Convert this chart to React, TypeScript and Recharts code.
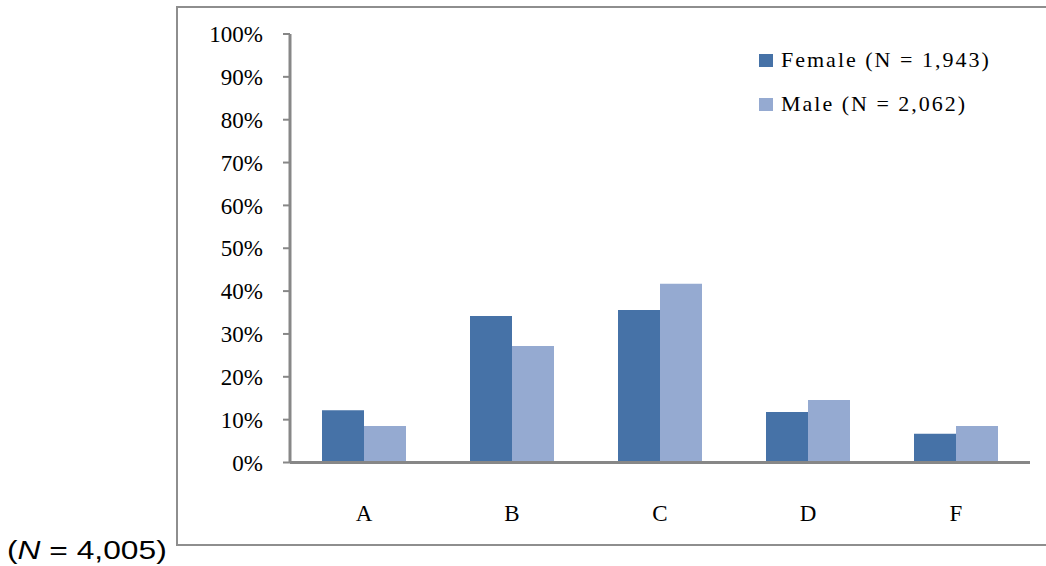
import { BarChart, Bar, XAxis, YAxis, Legend } from "recharts";

const grades = ["A", "B", "C", "D", "F"];
const femalePct = [12.2, 34.2, 35.6, 11.8, 6.7];
const malePct = [8.5, 27.2, 41.7, 14.6, 8.5];
const yTicks = [0, 10, 20, 30, 40, 50, 60, 70, 80, 90, 100];

const FEMALE_LABEL = "Female (N = 1,943)";
const MALE_LABEL = "Male (N = 2,062)";

const data = grades.map((g, i) => ({
  grade: g,
  female: femalePct[i],
  male: malePct[i],
}));

const AXIS_GREY = "#878787";
const SERIF = "'Liberation Serif', 'Times New Roman', serif";

function GradeLegend(props: any) {
  const items = props.payload || [];
  return (
    <div style={{ fontFamily: SERIF }}>
      {items.map((it: any) => (
        <div
          key={it.value}
          style={{ display: "flex", alignItems: "center", height: 44 }}
        >
          <span
            style={{
              display: "inline-block",
              width: 14,
              height: 13,
              background: it.color,
              marginRight: 8,
            }}
          />
          <span style={{ fontSize: 22, letterSpacing: 2, color: "#000" }}>
            {it.value}
          </span>
        </div>
      ))}
    </div>
  );
}

function App() {
  return (
    <div
      style={{
        position: "absolute",
        left: 0,
        top: 0,
        width: 1046,
        height: 566,
        background: "#fff",
        overflow: "hidden",
        fontFamily: SERIF,
      }}
    >
      {/* outer chart frame */}
      <div
        style={{
          position: "absolute",
          left: 176,
          top: 6,
          width: 900,
          height: 540,
          border: "2px solid #8e8e8e",
          boxSizing: "border-box",
        }}
      />
      <div
        style={{
          position: "absolute",
          left: 7,
          top: 538,
          fontFamily: "'Liberation Sans', Arial, sans-serif",
          fontSize: 25,
          lineHeight: "25px",
          color: "#000",
          whiteSpace: "nowrap",
          transform: "scaleX(1.27)",
          transformOrigin: "left top",
        }}
      >
        (<i>N</i> = 4,005)
      </div>
      <div style={{ position: "absolute", left: 0, top: 0 }}>
        <BarChart
          width={1046}
          height={566}
          data={data}
          margin={{ top: 34, right: 16, bottom: 0, left: 0 }}
          barGap={0}
          style={{ fontFamily: SERIF }}
        >
          <XAxis
            dataKey="grade"
            height={103.5}
            tickLine={false}
            axisLine={{ stroke: AXIS_GREY, strokeWidth: 3 }}
            tickMargin={36}
            tick={{ fill: "#000", fontSize: 23, fontFamily: SERIF }}
          />
          <YAxis
            width={290}
            domain={[0, 100]}
            ticks={yTicks}
            interval={0}
            tickFormatter={(v: number) => `${v}%`}
            axisLine={{ stroke: AXIS_GREY, strokeWidth: 3 }}
            tickLine={{ stroke: AXIS_GREY, strokeWidth: 2 }}
            tickSize={7}
            tickMargin={20}
            tick={{ fill: "#000", fontSize: 23, fontFamily: SERIF }}
          />
          {/* centred/middle placement keeps the legend from taking plot space */}
          <Legend
            layout="vertical"
            verticalAlign="middle"
            align="center"
            content={GradeLegend}
            wrapperStyle={{ left: 759, top: 38, width: 280 }}
          />
          <Bar
            dataKey="female"
            name={FEMALE_LABEL}
            fill="#4672A7"
            barSize={42}
            isAnimationActive={false}
          />
          <Bar
            dataKey="male"
            name={MALE_LABEL}
            fill="#95AAD1"
            barSize={42}
            isAnimationActive={false}
          />
        </BarChart>
      </div>
    </div>
  );
}

export default App;
